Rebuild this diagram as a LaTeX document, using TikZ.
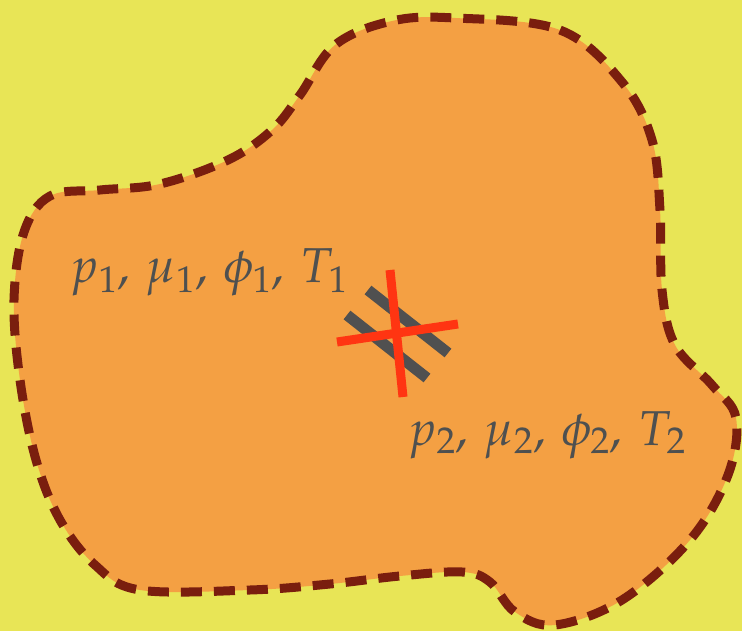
\documentclass[tikz,border=0pt]{standalone}
\usepackage{mathpazo}
\definecolor{bgyellow}{HTML}{E8E556}
\definecolor{blob}{HTML}{F4A043}
\definecolor{rim}{HTML}{7A1E0E}
\definecolor{crossred}{HTML}{FF3512}
\definecolor{bargray}{HTML}{505050}
\definecolor{txtgray}{HTML}{4E5050}
\tikzset{
  rimline/.style={draw=rim, line width=9pt, dash pattern=on 21pt off 12pt, fill=blob},
  barline/.style={bargray, line width=11pt},
  crossline/.style={crossred, line width=9pt},
  statelabel/.style={text=txtgray, inner sep=0pt, anchor=base west, font=\fontsize{49}{54}\selectfont}
}
\begin{document}
\begin{tikzpicture}[x=1pt,y=-1pt]
\fill[bgyellow] (0,0) rectangle (742,631);
\useasboundingbox (0,0) rectangle (742,631);
\draw[rimline] plot[smooth cycle, tension=0.6] coordinates {
 (455,18) (560,30) (622,82) (652,140) (660,210) (662,290) (675,345) (712,385) (736,418)
 (728,475) (690,540) (622,600) (555,625) (515,612) (490,582) (462,572) (400,576)
 (330,584) (250,590) (140,590) (95,565) (60,520) (36,460) (20,380) (14,300)
 (24,232) (50,196) (100,190) (160,184) (228,160) (272,130) (300,95) (335,45) (392,21)};
\coordinate (b1s) at (368,290);
\coordinate (b1e) at (448,353);
\coordinate (b2s) at (347,315);
\coordinate (b2e) at (427,378);
\coordinate (rvs) at (390,270);
\coordinate (rve) at (403,397);
\coordinate (rhs) at (337,342);
\coordinate (rhe) at (458,324);
\draw[barline] (b1s) -- (b1e);
\draw[barline] (b2s) -- (b2e);
\draw[crossline] (rvs) -- (rve);
\draw[crossline] (rhs) -- (rhe);
\node[statelabel] (lab1) at (70,283) {$p_1,\,\mu_1,\,\phi_1,\,T_1$};
\node[statelabel] (lab2) at (408,445) {$p_2,\,\mu_2,\,\phi_2,\,T_2$};
\end{tikzpicture}
\end{document}
